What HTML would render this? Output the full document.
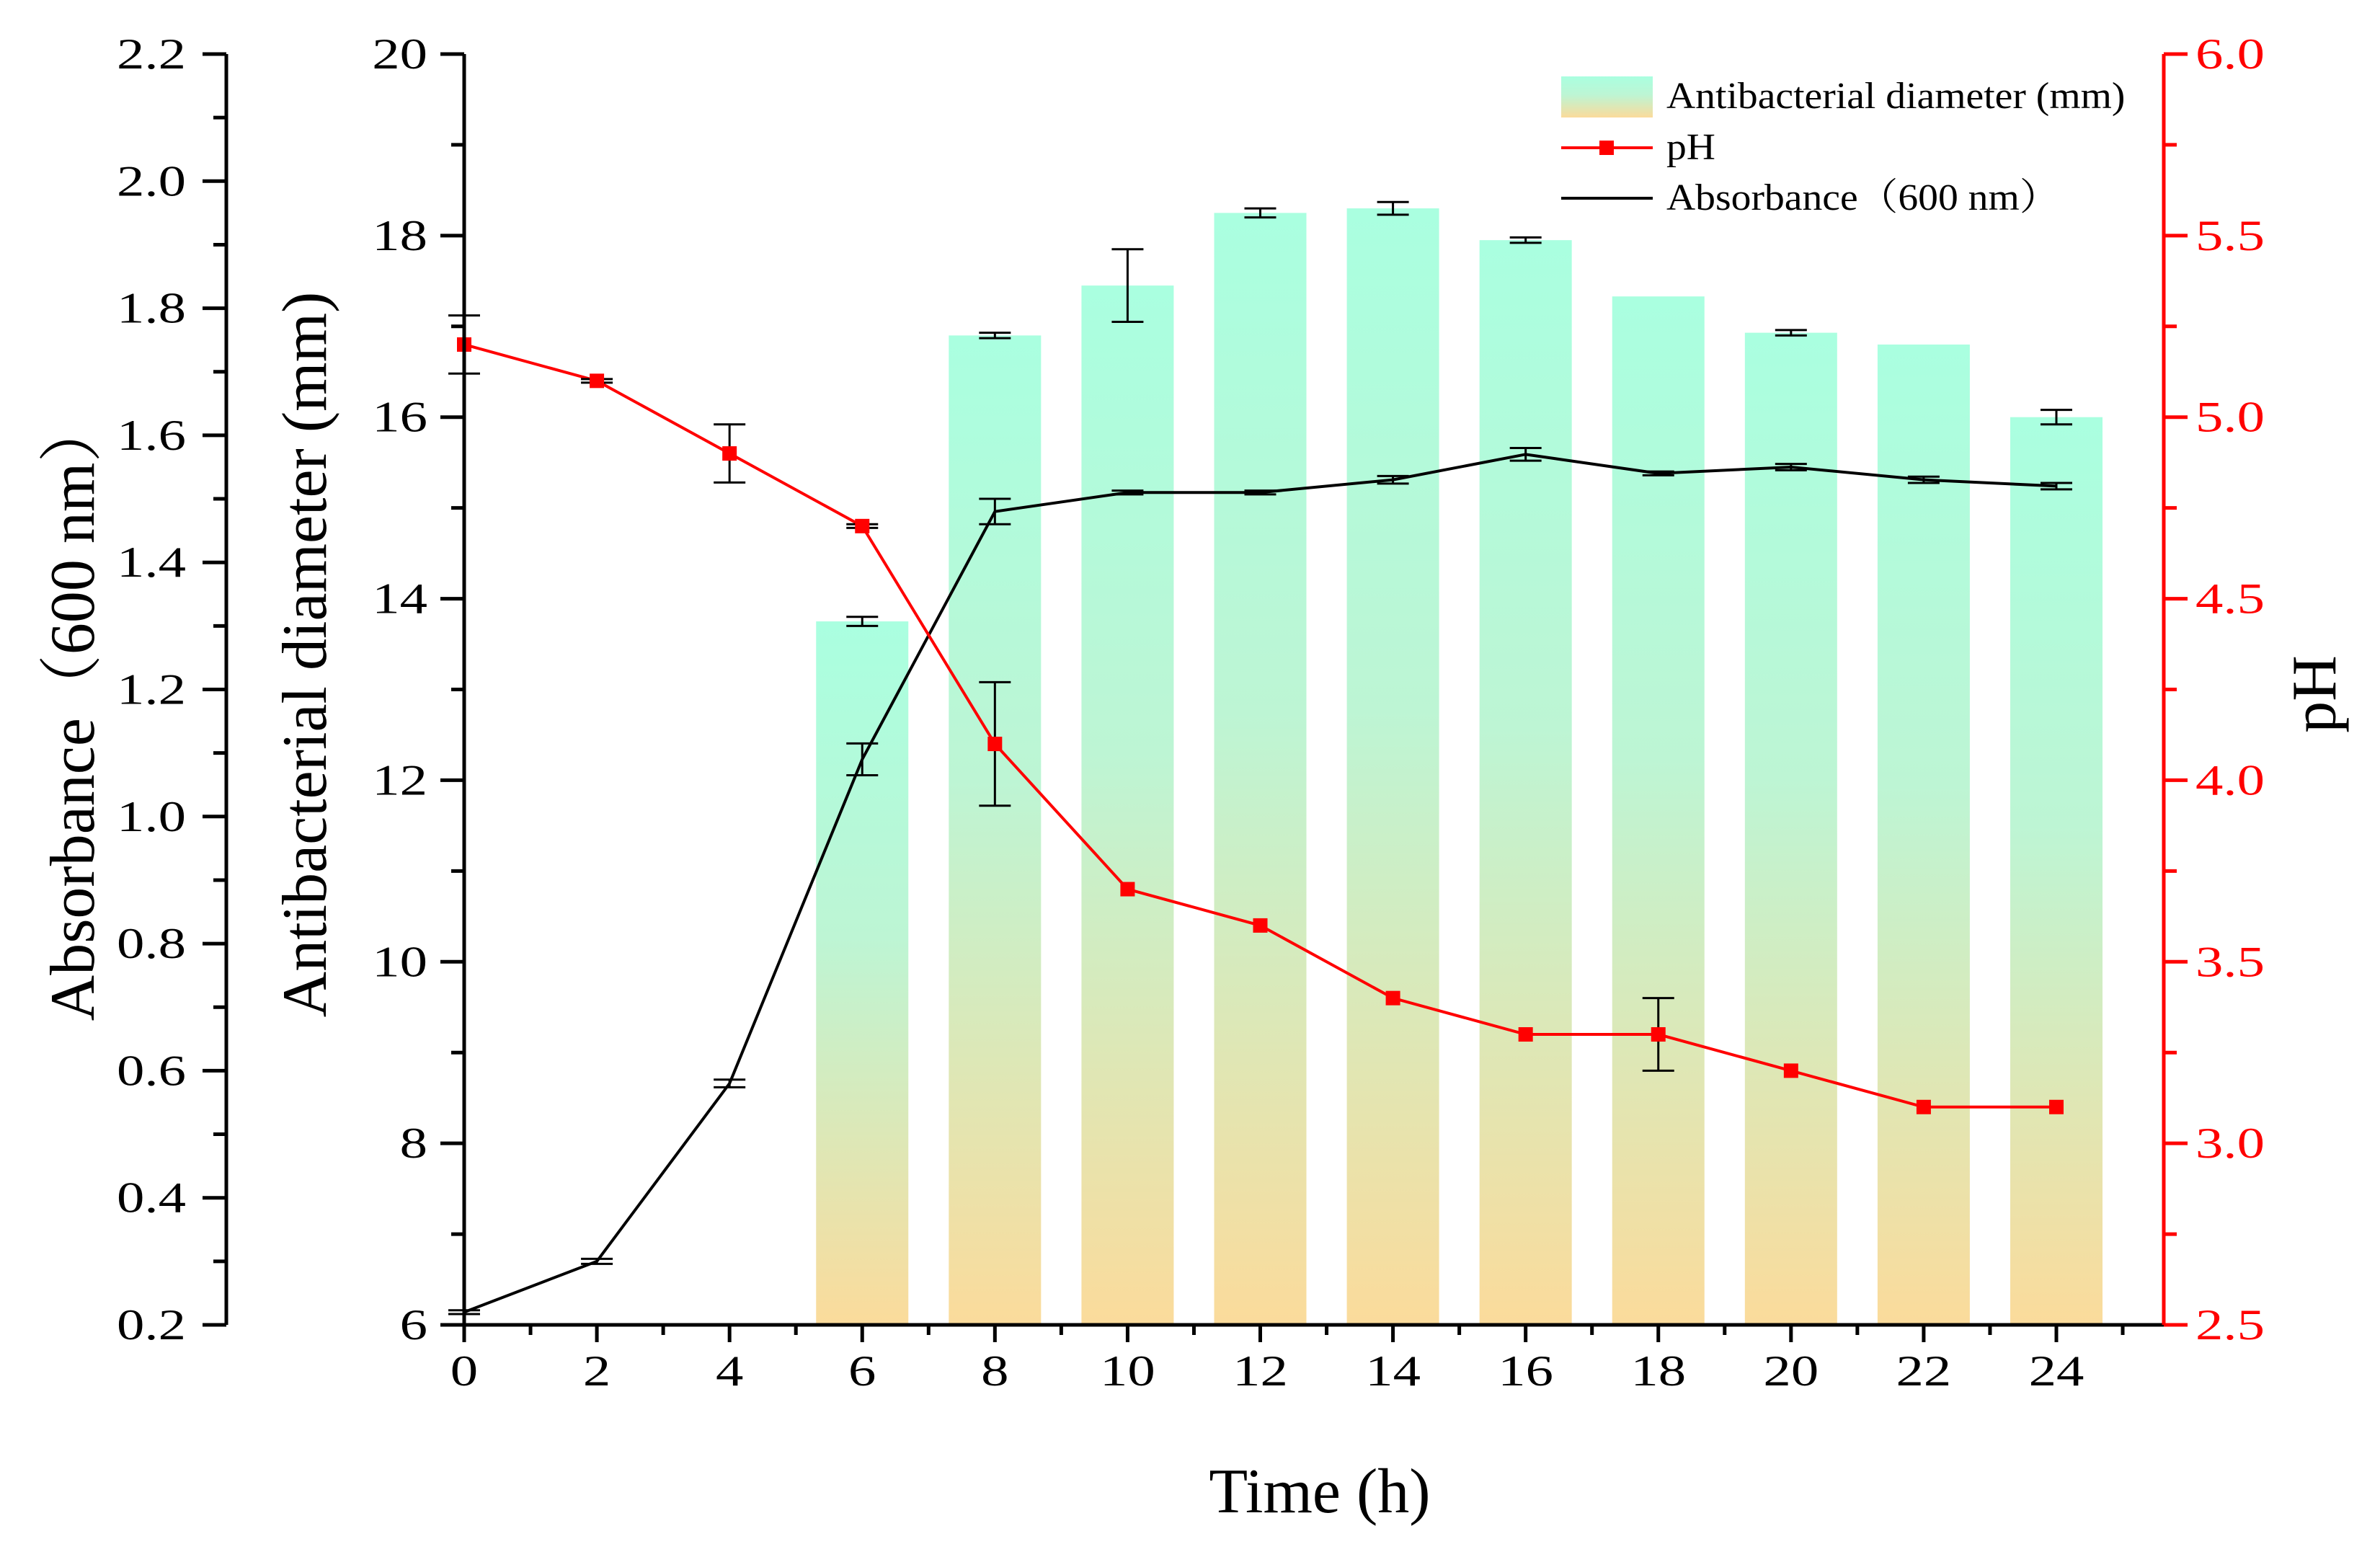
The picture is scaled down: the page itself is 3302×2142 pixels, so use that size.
<!DOCTYPE html>
<html><head><meta charset="utf-8"><style>
html,body{margin:0;padding:0;background:#fff}
svg{display:block;font-family:"Liberation Serif","Noto Serif CJK SC",serif}
</style></head><body>
<svg id="chart" width="3302" height="2142" viewBox="0 0 3302 2142" xmlns="http://www.w3.org/2000/svg">
<defs><linearGradient id="bg" x1="0" y1="0" x2="0" y2="1">
<stop offset="0" stop-color="#aaffe0"/><stop offset="0.45" stop-color="#bdf5d4"/><stop offset="1" stop-color="#fbdb9b"/></linearGradient></defs>
<g id="bars"></g>
<g id="lines"></g>
<g id="axes"></g>
<g id="legend">
<rect x="2166" y="106" width="127" height="57" fill="url(#bg)"/>
<text x="2312" y="150" font-size="52" transform="translate(2312,0) scale(1.07,1) translate(-2312,0)">Antibacterial diameter (mm)</text>
<line x1="2166" y1="205" x2="2293" y2="205" stroke="#f00" stroke-width="4"/>
<rect x="2219" y="195" width="20" height="20" fill="#f00"/>
<text x="2312" y="221" font-size="52" transform="translate(2312,0) scale(1.07,1) translate(-2312,0)">pH</text>
<line x1="2166" y1="275" x2="2293" y2="275" stroke="#000" stroke-width="4"/>
<text x="2312" y="291" font-size="52" transform="translate(2312,0) scale(1.07,1) translate(-2312,0)">Absorbance（600 nm）</text>
</g>
</svg>
<script>
const hours=[0,2,4,6,8,10,12,14,16,18,20,22,24];
const barHours=[6,8,10,12,14,16,18,20,22,24];
const diameter=[13.75,16.9,17.45,18.25,18.3,17.95,17.33,16.93,16.8,16.0];
const diameterErr=[0.05,0.03,0.4,0.05,0.07,0.03,0,0.03,0,0.08];
const absorbance=[0.22,0.30,0.58,1.09,1.48,1.51,1.51,1.53,1.57,1.54,1.55,1.53,1.52];
const absorbanceErr=[0.003,0.004,0.006,0.025,0.02,0.003,0.003,0.006,0.01,0.003,0.005,0.005,0.005];
const ph=[5.2,5.1,4.9,4.7,4.1,3.7,3.6,3.4,3.3,3.3,3.2,3.1,3.1];
const phErr=[0.08,0.005,0.08,0.005,0.17,0,0,0,0,0.1,0,0,0];
const xTicks=[0,2,4,6,8,10,12,14,16,18,20,22,24];
const mmTicks=[6,8,10,12,14,16,18,20];
const absTicks=["0.2","0.4","0.6","0.8","1.0","1.2","1.4","1.6","1.8","2.0","2.2"];
const phTicks=["2.5","3.0","3.5","4.0","4.5","5.0","5.5","6.0"];

const NS="http://www.w3.org/2000/svg";
const X0=644,XS=(2853-644)/24,YB=1838,YT=75,H=YB-YT,AXR=3002,AXA=314;
const x=h=>X0+h*XS;
const yMM=v=>YB-(v-6)/14*H;
const yAbs=v=>YB-(v-0.2)/2*H;
const yPH=v=>YB-(v-2.5)/3.5*H;
function mk(tag,attrs,parent,txt){const e=document.createElementNS(NS,tag);for(const k in attrs)e.setAttribute(k,attrs[k]);if(txt!==undefined)e.textContent=txt;parent.appendChild(e);return e;}
const gB=document.getElementById('bars'),gL=document.getElementById('lines'),gA=document.getElementById('axes');
const BW=128;
barHours.forEach((h,i)=>{
  const r=mk('rect',{x:x(h)-BW/2,y:yMM(diameter[i]),width:BW,height:YB-yMM(diameter[i]),fill:'url(#bg)'},gB);
  
  
});
function errbar(g,cx,yf,v,e,col,name){
  if(e<=0)return;
  const y1=yf(v+e),y2=yf(v-e);
  const p=mk('path',{d:`M${cx},${y1}V${y2}M${cx-22},${y1}h44M${cx-22},${y2}h44`,stroke:col,'stroke-width':3,fill:'none'},g);
  
  
}
barHours.forEach((h,i)=>errbar(gB,x(h),yMM,diameter[i],diameterErr[i],'#000','bar-error-'+h+'h'));
const ap=mk('polyline',{points:hours.map((h,i)=>x(h)+','+yAbs(absorbance[i])).join(' '),fill:'none',stroke:'#000','stroke-width':4},gL);


hours.forEach((h,i)=>errbar(gL,x(h),yAbs,absorbance[i],absorbanceErr[i],'#000','absorbance-error-'+h+'h'));
const pp=mk('polyline',{points:hours.map((h,i)=>x(h)+','+yPH(ph[i])).join(' '),fill:'none',stroke:'#f00','stroke-width':4},gL);


hours.forEach((h,i)=>{
  errbar(gL,x(h),yPH,ph[i],phErr[i],'#000','ph-error-'+h+'h');
  const m=mk('rect',{x:x(h)-10,y:yPH(ph[i])-10,width:20,height:20,fill:'#f00'},gL);
  
  
});
function line(d,col,name){const p=mk('path',{d:d,stroke:col,'stroke-width':5,fill:'none'},gA);}
line(`M${X0},${YT}V${YB}H${AXR}`,'#000','main-axes');
line(`M${AXA},${YT}V${YB}`,'#000','absorbance-axis');
line(`M${AXR},${YT}V${YB}`,'#f00','ph-axis');
let d='';
for(let h=0;h<=25;h++){d+=`M${x(h)},${YB}v${h%2?14:24}`;}
line(d,'#000','x-ticks');
d='';for(let v=6;v<=20;v++){d+=`M${X0},${yMM(v)}h${v%2?-18:-33}`;}line(d,'#000','mm-ticks');
d='';for(let k=0;k<=20;k++){d+=`M${AXA},${YB-k*H/20}h${k%2?-18:-33}`;}line(d,'#000','absorbance-ticks');
d='';for(let k=0;k<=14;k++){d+=`M${AXR},${YB-k*H/14}h${k%2?18:33}`;}line(d,'#f00','ph-ticks');
function txt(s,a,name){const t=mk('text',a,gA,s);return t;}
function wtxt(s,px,py,anchor,fill,name){
  const t=txt(s,{x:0,y:0,'font-size':60,'text-anchor':anchor,fill:fill,transform:`translate(${px},${py}) scale(1.28,1)`},name);
  return t;
}
xTicks.forEach(h=>wtxt(String(h),x(h),1922,'middle','#000','x-tick-label'));
mmTicks.forEach(v=>wtxt(String(v),593,yMM(v)+20,'end','#000','mm-tick-label'));
absTicks.forEach((s,k)=>wtxt(s,258,YB-k*H/10+20,'end','#000','absorbance-tick-label'));
phTicks.forEach((s,k)=>wtxt(s,3046,YB-k*H/7+20,'start','#f00','ph-tick-label'));
txt('Time (h)',{x:1831,y:2098,'font-size':88,'text-anchor':'middle'},'x-axis-title');
txt('Absorbance（600 nm）',{x:0,y:0,'font-size':88,'text-anchor':'middle',transform:'translate(130,985) rotate(-90)'},'absorbance-axis-title');
txt('Antibacterial diameter (mm)',{x:0,y:0,'font-size':88,'text-anchor':'middle',transform:'translate(452,908) rotate(-90)'},'mm-axis-title');
txt('pH',{x:0,y:0,'font-size':88,'text-anchor':'middle',transform:'translate(3240,963) rotate(-90)'},'ph-axis-title');
</script>
</body></html>
